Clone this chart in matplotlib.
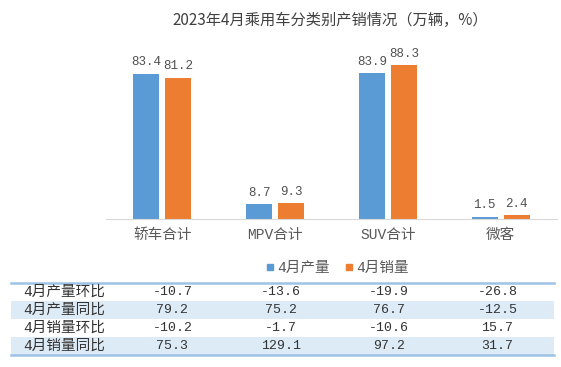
import numpy as np
import matplotlib
matplotlib.use("Agg")
from matplotlib import pyplot as plt
from matplotlib.patches import Rectangle
from matplotlib.lines import Line2D

plt.rcParams['font.family'] = ['Noto Sans CJK SC', 'DejaVu Sans']

categories = ["轿车合计", "MPV合计", "SUV合计", "微客"]
production = [83.4, 8.7, 83.9, 1.5]
sales = [81.2, 9.3, 88.3, 2.4]
series_names = ["4月产量", "4月销量"]

row_labels = ["4月产量环比", "4月产量同比", "4月销量环比", "4月销量同比"]
table_values = [
    ["-10.7", "-13.6", "-19.9", "-26.8"],
    ["79.2", "75.2", "76.7", "-12.5"],
    ["-10.2", "-1.7", "-10.6", "15.7"],
    ["75.3", "129.1", "97.2", "31.7"],
]

blue = "#5B9BD5"
orange = "#ED7D31"
mono = ['Liberation Mono', 'Noto Sans CJK SC']

W, H = 561, 367
fig = plt.figure(figsize=(W / 100, H / 100), dpi=100)

# bar chart area (pixel layout)
left, right, base, top = 106, 557, 219.3, 45
ax = fig.add_axes([left / W, (H - base) / H, (right - left) / W, (base - top) / H])
x = np.arange(len(categories))
off, bw = 0.142, 0.23
b1 = ax.bar(x - off, production, bw, color=blue)
b2 = ax.bar(x + off, sales, bw, color=orange)
for bars, vals in ((b1, production), (b2, sales)):
    for r, v in zip(bars, vals):
        ax.annotate(f"{v}", (r.get_x() + r.get_width() / 2, r.get_height()),
                    xytext=(0, 4), textcoords="offset points", ha="center", va="bottom",
                    fontsize=9, color="#505050", family=mono)
ax.set_xlim(-0.5, 3.5)
ax.set_ylim(0, 100)
ax.set_yticks([])
ax.set_xticks(x)
ax.set_xticklabels(categories, fontsize=10.5, color="#595959")
for lab in ax.get_xticklabels():
    lab.set_family(mono)
ax.tick_params(axis="x", length=0, pad=6)
for s in ["top", "right", "left"]:
    ax.spines[s].set_visible(False)
ax.spines["bottom"].set_color("#D9D9D9")
ax.patch.set_alpha(0)

fig.text(330 / W, 1 - 20 / H, "2023年4月乘用车分类别产销情况（万辆，%）",
         ha="center", va="center", fontsize=11, color="#404040")

handles = [Line2D([], [], marker="s", ls="none", color=blue, markersize=5),
           Line2D([], [], marker="s", ls="none", color=orange, markersize=5)]
fig.legend(handles, series_names, loc="center", bbox_to_anchor=(337 / W, 1 - 268 / H),
           ncol=2, frameon=False, handlelength=0.6, handletextpad=0.2,
           columnspacing=1.0, prop={'family': mono, 'size': 10.5},
           labelcolor="#595959")

# table area in pixel coordinates
tax = fig.add_axes([0, 0, 1, 1])
tax.set_xlim(0, W)
tax.set_ylim(H, 0)
tax.axis("off")
t_left, t_right, t_top, row_h = 11, 554, 282.5, 18.2
for i, (lab, vals) in enumerate(zip(row_labels, table_values)):
    y0 = t_top + i * row_h
    if i % 2 == 1:
        tax.add_patch(Rectangle((t_left, y0), t_right - t_left, row_h,
                                color="#DDEBF7", lw=0))
    yc = y0 + row_h / 2
    tax.text(23, yc, lab, ha="left", va="center", fontsize=10.5,
             color="#333333", family=mono)
    for j, v in enumerate(vals):
        tax.text(172.5 + 108.3 * j, yc, v, ha="center", va="center",
                 fontsize=9.5, color="#333333", family=mono)
tax.plot([t_left, t_right], [t_top, t_top], color="#9DC3E6", lw=1.8)
bot = t_top + 4 * row_h
tax.plot([t_left, t_right], [bot, bot], color="#9DC3E6", lw=1.8)

fig.savefig("out.png", dpi=100)
